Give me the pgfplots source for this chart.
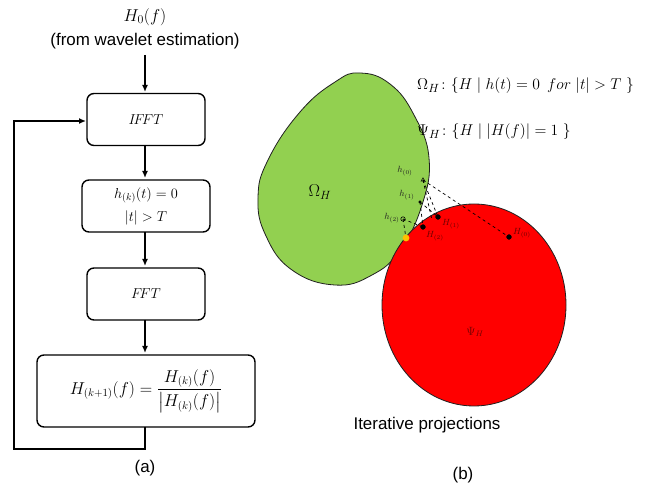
\documentclass[border=0pt]{standalone}
\usepackage{amsmath}
\usepackage{graphicx}
\usepackage{pgfplots}
\pgfplotsset{compat=1.18}
\usepackage{fontspec}
\setmainfont{Liberation Sans}
\usetikzlibrary{arrows.meta}

\definecolor{setgreen}{HTML}{92D050}
\definecolor{setred}{HTML}{FF0000}
\definecolor{fixyellow}{HTML}{FFC000}
\definecolor{inkdark}{HTML}{202020}

\begin{document}
\begin{tikzpicture}[
  box/.style={draw=black, line width=1.4bp, rounded corners=7bp, fill=white, inner sep=0pt},
  flow/.style={line width=1.8bp, -{Latex[length=7bp,width=6bp]}},
]
\begin{axis}[
  scale only axis, width=649bp, height=490bp,
  xmin=0, xmax=649, ymin=0, ymax=490, y dir=reverse,
  hide axis, clip=false,
]
% ---------------- (a) flow chart ----------------
\node[font=\fontsize{18}{20}\selectfont] at (axis cs:145,17) {$H_0(f)$};
\node[font=\fontsize{17}{19}\selectfont] at (axis cs:145,41) {(from wavelet estimation)};

\node[box, minimum width=118bp, minimum height=52bp, font=\fontsize{15}{17}\selectfont]
  (b1) at (axis cs:146,119.5) {$I\!F\!FT$};
\node[box, minimum width=128bp, minimum height=52bp, font=\fontsize{14}{23}\selectfont, align=center]
  (b2) at (axis cs:146,206) {$h_{(k)}(t)=0$\\$|t|>T$};
\node[box, minimum width=118bp, minimum height=52bp, font=\fontsize{15}{17}\selectfont]
  (b3) at (axis cs:146,294) {$F\!FT$};
\node[box, minimum width=218bp, minimum height=72bp, font=\fontsize{16}{18}\selectfont]
  (b4) at (axis cs:146,391) {$H_{(k+1)}(f)=\dfrac{H_{(k)}(f)}{\left|H_{(k)}(f)\right|}$};

\addplot[flow, black] coordinates {(145,55) (145,92)};
\addplot[flow, black] coordinates {(145,146) (145,178)};
\addplot[flow, black] coordinates {(145,232) (145,266)};
\addplot[flow, black] coordinates {(145,320) (145,353)};
% feedback loop
\addplot[flow, black] coordinates {(145,427) (145,449) (14,449) (14,121) (86,121)};

\node[font=\fontsize{17}{19}\selectfont] at (axis cs:145,468) {(a)};

% ---------------- (b) iterative projections ----------------
\filldraw[fill=setgreen, draw=inkdark, line width=0.8bp]
  plot[smooth cycle, tension=0.75] coordinates {
    (axis cs:360,73) (axis cs:390,84) (axis cs:414,115) (axis cs:429,158)
    (axis cs:422,205) (axis cs:400,250) (axis cs:372,275) (axis cs:335,285)
    (axis cs:292,270) (axis cs:266,236) (axis cs:258,198) (axis cs:268,160)
    (axis cs:300,112) (axis cs:335,82)};
\filldraw[fill=setred, draw=inkdark, line width=0.8bp]
  (axis cs:474,305) ellipse [x radius=92, y radius=101];

\node[font=\fontsize{17}{19}\selectfont] at (axis cs:320,192) {$\Omega_H$};
\node[font=\fontsize{12}{14}\selectfont, text=red!45!black] at (axis cs:475,332) {$\Psi_H$};

\node[anchor=west, inner sep=1bp, font=\fontsize{15}{17}\selectfont] at (axis cs:416,86)
  {\scalebox{1.09}{$\Omega_H\colon\{H\mid h(t)=0\ \,for\ |t|>T\ \}$}};
\node[anchor=west, inner sep=1bp, font=\fontsize{15}{17}\selectfont] at (axis cs:416,132)
  {\scalebox{1.09}{$\Psi_H\colon\{H\mid |H(f)|=1\ \}$}};

% projection paths between the two sets
\addplot[black, dashed, line width=0.7bp] coordinates {(423,180) (509,237)};
\addplot[black, dashed, line width=0.7bp] coordinates {(423,180) (438,217)};
\addplot[black, dashed, line width=0.7bp] coordinates {(423,180) (432,220)};
\addplot[black, dashed, line width=0.7bp] coordinates {(420,202) (438,217)};
\addplot[black, dashed, line width=0.7bp] coordinates {(420,202) (423,227)};
\addplot[black, dashed, line width=0.7bp] coordinates {(403,219) (423,227)};
\addplot[black, dashed, line width=0.7bp] coordinates {(403,219) (406,238)};

% iterates in Omega_H
\addplot[only marks, mark=triangle, mark size=2.2bp, black, line width=0.5bp] coordinates {(423,180)};
\addplot[only marks, mark=*, mark size=1.3bp, black] coordinates {(420,202)};
\addplot[only marks, mark=o, mark size=2.2bp, black, line width=0.6bp] coordinates {(403,219)};
% iterates in Psi_H
\addplot[only marks, mark=*, mark size=2.4bp, black] coordinates {(509,237) (438,217) (423,227)};
% fixed point
\addplot[only marks, mark=*, mark size=3.2bp, fixyellow, mark options={draw=fixyellow}] coordinates {(406,238)};

\node[font=\fontsize{9}{10}\selectfont, text=inkdark] at (axis cs:405,171) {$h_{(0)}$};
\node[font=\fontsize{9}{10}\selectfont, text=inkdark] at (axis cs:407,195) {$h_{(1)}$};
\node[font=\fontsize{9}{10}\selectfont, text=inkdark] at (axis cs:392,218) {$h_{(2)}$};
\node[font=\fontsize{9}{10}\selectfont, text=red!40!black] at (axis cs:522,233) {$H_{(0)}$};
\node[font=\fontsize{9}{10}\selectfont, text=red!40!black] at (axis cs:451,224) {$H_{(1)}$};
\node[font=\fontsize{9}{10}\selectfont, text=red!40!black] at (axis cs:435,236) {$H_{(2)}$};

\node[font=\fontsize{17}{19}\selectfont] at (axis cs:427,425) {Iterative projections};
\node[font=\fontsize{17}{19}\selectfont] at (axis cs:463,475) {(b)};
\end{axis}
% the page is exactly the drawing area
\pgfresetboundingbox
\path (current axis.south west) rectangle (current axis.north east);
\end{tikzpicture}
\end{document}
